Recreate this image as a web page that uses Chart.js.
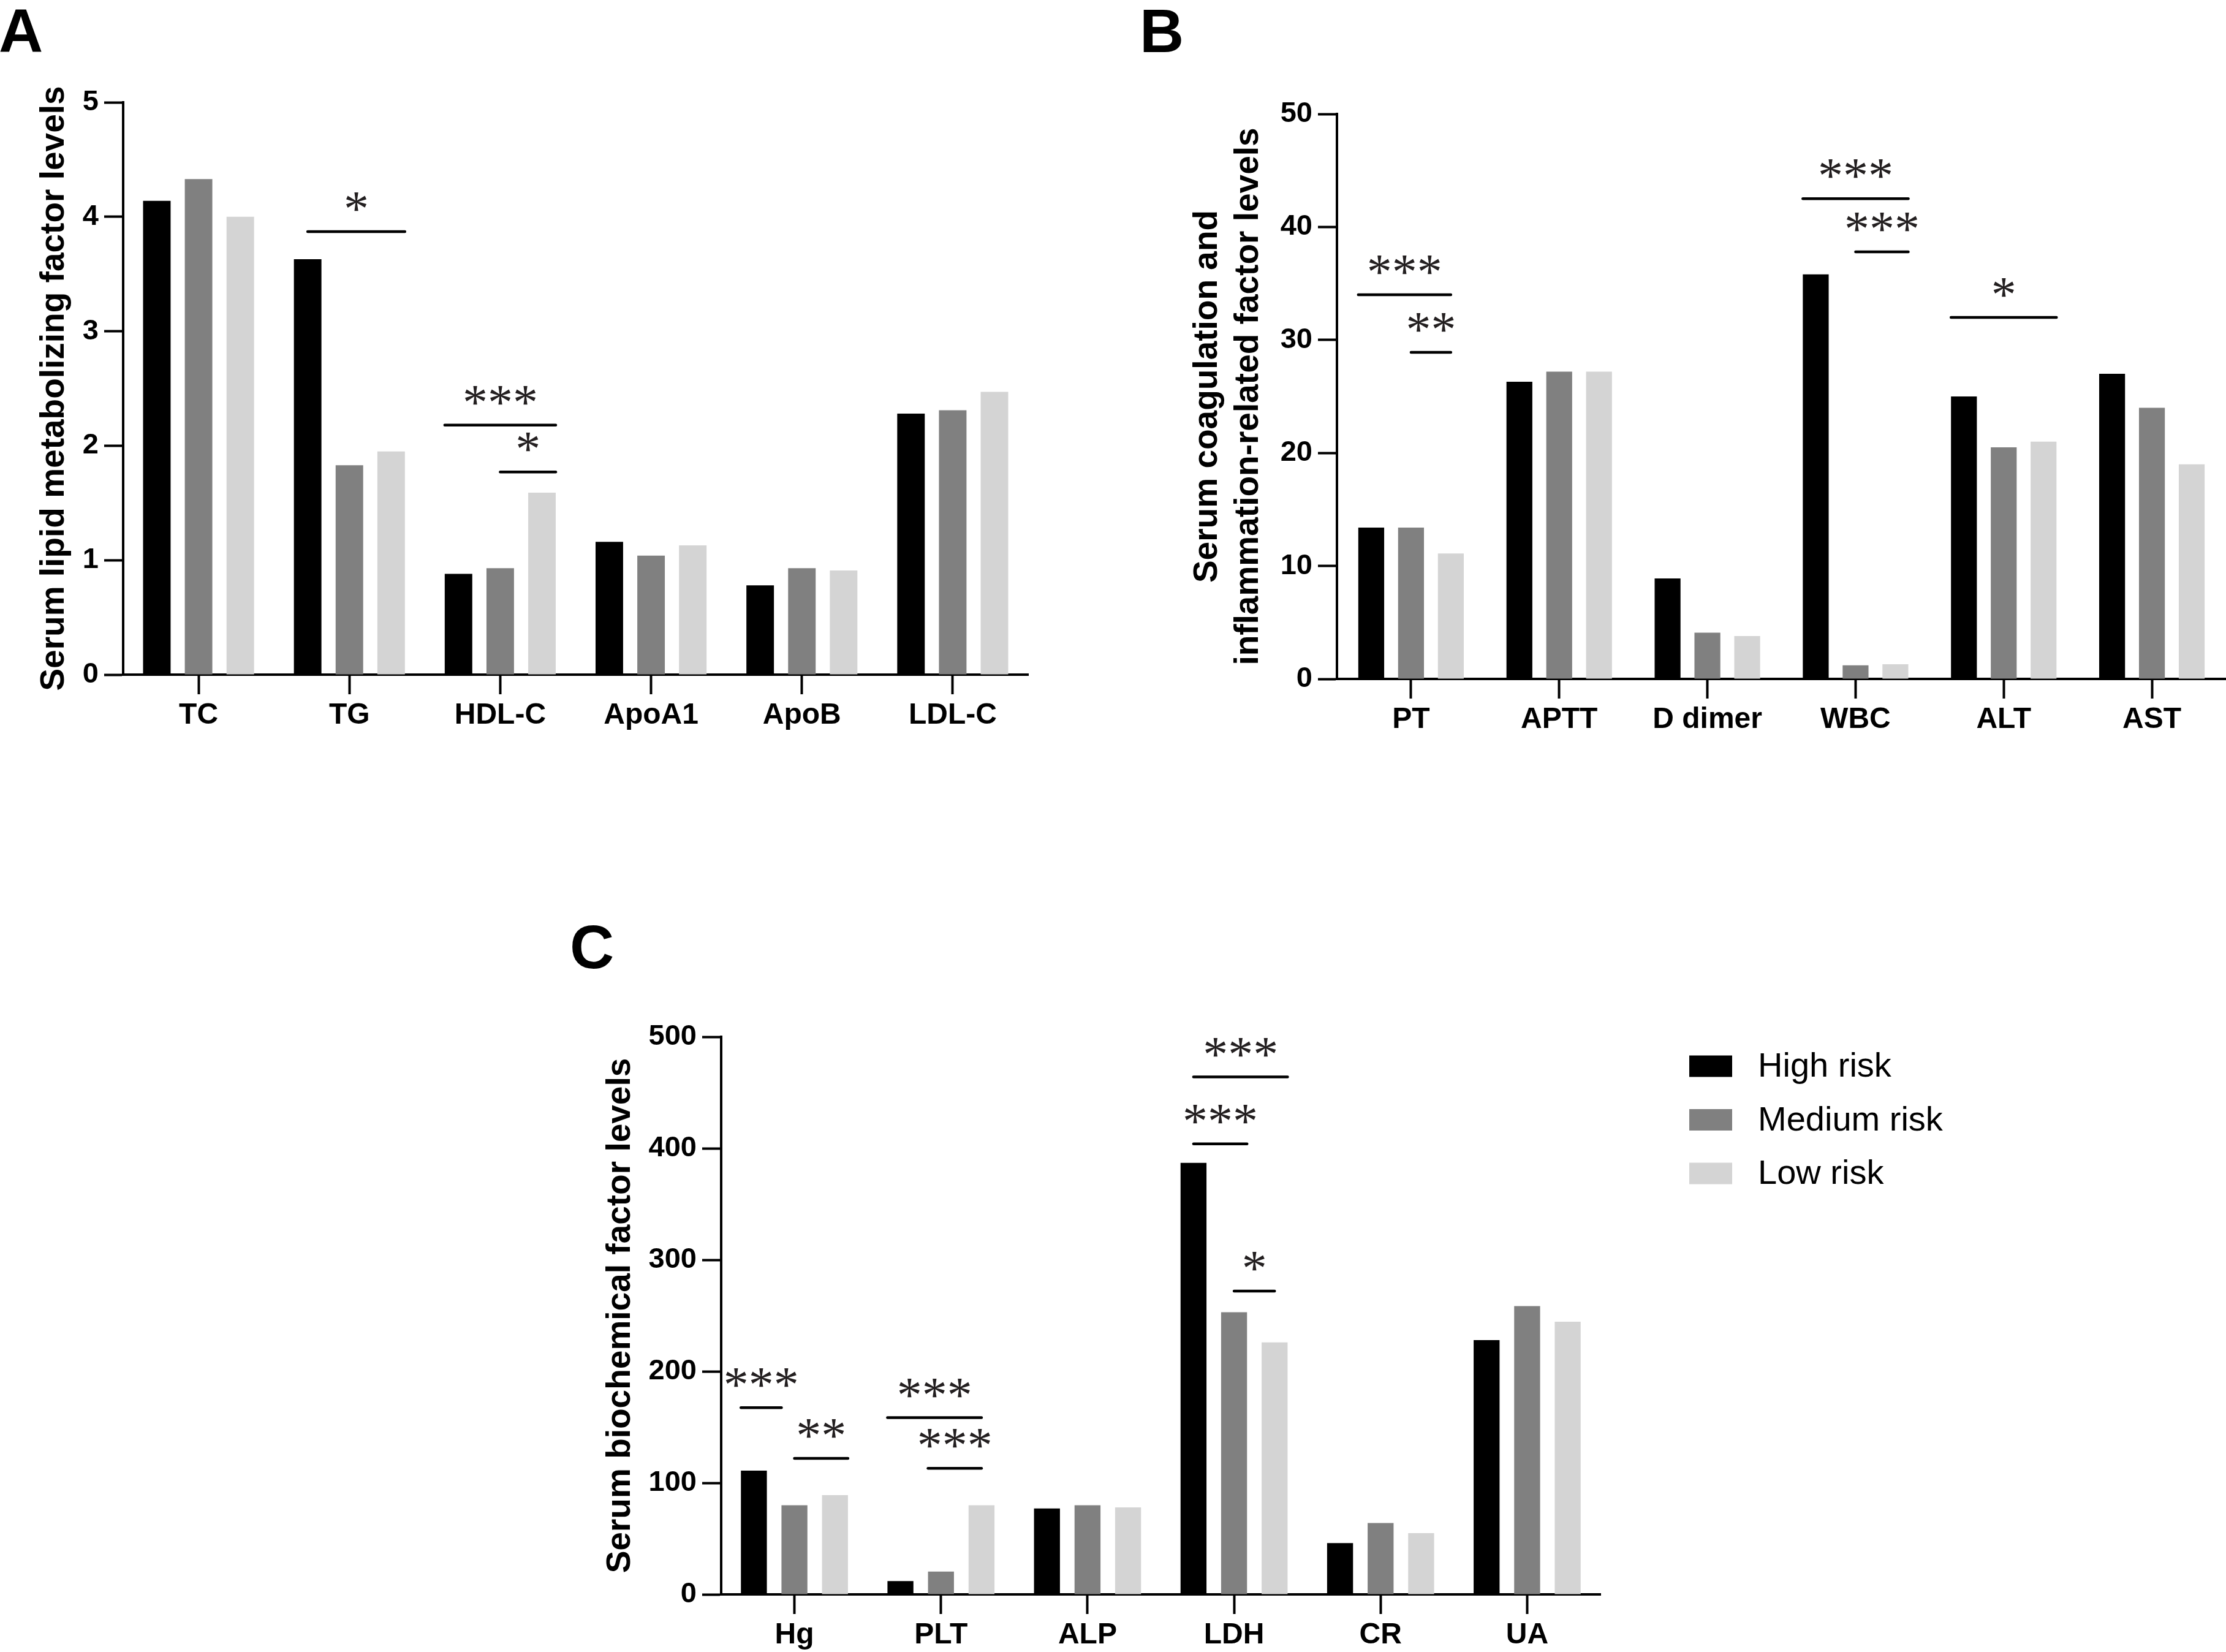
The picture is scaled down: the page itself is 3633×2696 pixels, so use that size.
<!DOCTYPE html>
<html>
<head>
<meta charset="utf-8">
<title>Serum factor levels by risk group</title>
<script src="https://cdn.jsdelivr.net/npm/chart.js@4.4.1/dist/chart.umd.min.js"></script>
<style>
  html, body { margin: 0; padding: 0; background: #fff; }
  body { width: 3633px; height: 2696px; position: relative; overflow: hidden; }
  .panel { position: absolute; }
  .letter { position: absolute; font: bold 100px/100px "Liberation Sans", Arial, sans-serif; color: #000; }
</style>
</head>
<body>
<div class="letter" style="left:-2px;top:0">A</div>
<div class="letter" style="left:1860px;top:0">B</div>
<div class="letter" style="left:930px;top:1495px">C</div>

<div class="panel" style="left:0;top:0;width:1750px;height:1250px"><canvas id="chartA"></canvas></div>
<div class="panel" style="left:1850px;top:0;width:1783px;height:1250px"><canvas id="chartB"></canvas></div>
<div class="panel" style="left:900px;top:1450px;width:2733px;height:1246px"><canvas id="chartC"></canvas></div>

<script>
// ===== DATA =====
const seriesNames = ['High risk', 'Medium risk', 'Low risk'];
const seriesColors = ['#000000', '#808080', '#d4d4d4'];

// A - lipid
const lipidLabels = ['TC', 'TG', 'HDL-C', 'ApoA1', 'ApoB', 'LDL-C'];
const lipidHigh = [4.14, 3.63, 0.88, 1.16, 0.78, 2.28];
const lipidMed  = [4.33, 1.83, 0.93, 1.04, 0.93, 2.31];
const lipidLow  = [4.00, 1.95, 1.59, 1.13, 0.91, 2.47];
const lipidTicks = [0, 1, 2, 3, 4, 5];

// B - coagulation / inflammation
const coagLabels = ['PT', 'APTT', 'D dimer', 'WBC', 'ALT', 'AST'];
const coagHigh = [13.4, 26.3, 8.9, 35.8, 25.0, 27.0];
const coagMed  = [13.4, 27.2, 4.1, 1.2, 20.5, 24.0];
const coagLow  = [11.1, 27.2, 3.8, 1.3, 21.0, 19.0];
const coagTicks = [0, 10, 20, 30, 40, 50];

// C - biochemical
const bioLabels = ['Hg', 'PLT', 'ALP', 'LDH', 'CR', 'UA'];
const bioHigh = [111, 12, 77, 387, 46, 228];
const bioMed  = [80, 20.5, 80, 253, 64, 258.5];
const bioLow  = [89, 80, 78, 226, 55, 244.5];
const bioTicks = [0, 100, 200, 300, 400, 500];

// significance: [category, from series, from edge, to series, to edge, y value, stars]
const lipidSig = [
  [1, 0, 'c', 2, 'r', 3.87, '*'],
  [2, 0, 'l', 2, 'r', 2.18, '***'],
  [2, 1, 'c', 2, 'r', 1.77, '*']
];
const coagSig = [
  [0, 0, 'l', 2, 'c', 34.0, '***'],
  [0, 1, 'c', 2, 'c', 28.9, '**'],
  [3, 0, 'l', 2, 'r', 42.5, '***'],
  [3, 1, 'c', 2, 'r', 37.8, '***'],
  [4, 0, 'l', 2, 'r', 32.0, '*']
];
const bioSig = [
  [0, 0, 'l', 1, 'l', 167.5, '***'],
  [0, 1, 'c', 2, 'r', 122, '**'],
  [1, 0, 'l', 2, 'c', 158.5, '***'],
  [1, 1, 'l', 2, 'c', 113, '***'],
  [3, 0, 'c', 2, 'r', 464, '***'],
  [3, 0, 'c', 1, 'r', 404, '***'],
  [3, 1, 'c', 2, 'c', 272, '*']
];

const FONT = '"Liberation Sans", Arial, sans-serif';

// ===== PLUGINS =====
function edgeX(bar, edge) {
  const p = bar.getProps(['x', 'width'], true);
  if (edge === 'l') return p.x - p.width / 2;
  if (edge === 'r') return p.x + p.width / 2;
  return p.x;
}

function sigPlugin(marks) {
  return {
    id: 'sigMarks',
    afterDraw(chart) {
      const c = chart.ctx;
      const yScale = chart.scales.y;
      c.save();
      marks.forEach(([cat, s0, e0, s1, e1, val, txt]) => {
        const x0 = edgeX(chart.getDatasetMeta(s0).data[cat], e0);
        const x1 = edgeX(chart.getDatasetMeta(s1).data[cat], e1);
        const py = yScale.getPixelForValue(val);
        c.strokeStyle = '#000';
        c.lineWidth = 4.5;
        c.lineCap = 'round';
        c.beginPath();
        c.moveTo(x0, py);
        c.lineTo(x1, py);
        c.stroke();
        c.fillStyle = '#231f20';
        c.font = '82px "Liberation Serif", "Times New Roman", serif';
        c.textAlign = 'center';
        c.textBaseline = 'alphabetic';
        c.fillText(txt, (x0 + x1) / 2, py - 10);
      });
      c.restore();
    }
  };
}

// legend drawn beside panel C
function legendPlugin(opt) {
  return {
    id: 'riskLegend',
    afterDraw(chart) {
      if (!opt) return;
      const c = chart.ctx;
      c.save();
      chart.data.datasets.forEach((ds, i) => {
        const cy = opt.y + i * opt.step;
        c.fillStyle = ds.backgroundColor;
        c.fillRect(opt.x, cy - opt.h / 2, opt.w, opt.h);
        c.fillStyle = '#000';
        c.font = '56px ' + FONT;
        c.textAlign = 'left';
        c.textBaseline = 'middle';
        c.fillText(ds.label, opt.textX, cy + 2);
      });
      c.restore();
    }
  };
}

// ===== PANEL =====
function makePanel(id, cfg) {
  const ctx = document.getElementById(id);
  return new Chart(ctx, {
    type: 'bar',
    data: {
      labels: cfg.labels,
      datasets: cfg.series.map((vals, i) => ({
        label: seriesNames[i],
        data: vals,
        backgroundColor: seriesColors[i],
        borderWidth: 0,
        categoryPercentage: cfg.catPct,
        barPercentage: cfg.barPct
      }))
    },
    options: {
      responsive: true,
      maintainAspectRatio: false,
      animation: false,
      devicePixelRatio: 1,
      layout: { padding: { top: cfg.top, right: cfg.right, left: 0, bottom: 0 } },
      plugins: {
        legend: { display: false },
        tooltip: { enabled: false }
      },
      scales: {
        x: {
          z: 1,
          grid: { offset: false, drawOnChartArea: false, drawTicks: true, tickLength: 32, tickWidth: 4, tickColor: '#000' },
          border: { color: '#000', width: 4 },
          ticks: { color: '#000', font: { family: FONT, size: 48, weight: 'bold' }, padding: 6, maxRotation: 0, autoSkip: false },
          afterFit: s => { s.height = cfg.xH; }
        },
        y: {
          z: 1,
          min: 0,
          max: cfg.ticks[cfg.ticks.length - 1],
          afterBuildTicks: s => { s.ticks = cfg.ticks.map(v => ({ value: v })); },
          grid: { drawOnChartArea: false, drawTicks: true, tickLength: 31, tickWidth: 4, tickColor: '#000' },
          border: { color: '#000', width: 4 },
          ticks: { color: '#000', font: { family: FONT, size: 47, weight: 'bold' }, padding: 9 },
          title: {
            display: true,
            text: cfg.title,
            color: '#000',
            font: { family: FONT, size: 55, weight: 'bold', lineHeight: 1.22 },
            padding: { top: cfg.titlePad, bottom: 0 }
          },
          afterFit: s => { s.width = cfg.yW; }
        }
      }
    },
    plugins: [sigPlugin(cfg.sig), legendPlugin(cfg.legend)]
  });
}

// ===== LOAD =====
document.addEventListener('DOMContentLoaded', () => {
  makePanel('chartA', {
    labels: lipidLabels,
    series: [lipidHigh, lipidMed, lipidLow],
    ticks: lipidTicks,
    sig: lipidSig,
    title: 'Serum lipid metabolizing factor levels',
    top: 167, right: 72, yW: 201, xH: 149, titlePad: 55,
    catPct: 0.83, barPct: 0.66
  });

  makePanel('chartB', {
    labels: coagLabels,
    series: [coagHigh, coagMed, coagLow],
    ticks: coagTicks,
    sig: coagSig,
    title: ['Serum coagulation and', 'inflammation-related factor levels'],
    top: 186, right: 0, yW: 332, xH: 142, titlePad: 87,
    catPct: 0.806, barPct: 0.65
  });

  makePanel('chartC', {
    labels: bioLabels,
    series: [bioHigh, bioMed, bioLow],
    ticks: bioTicks,
    sig: bioSig,
    title: 'Serum biochemical factor levels',
    top: 242, right: 1021, yW: 277, xH: 94, titlePad: 79,
    catPct: 0.83, barPct: 0.64,
    legend: { x: 1857, y: 290, step: 87.5, w: 70, h: 35, textX: 1969 }
  });
});
</script>
</body>
</html>
